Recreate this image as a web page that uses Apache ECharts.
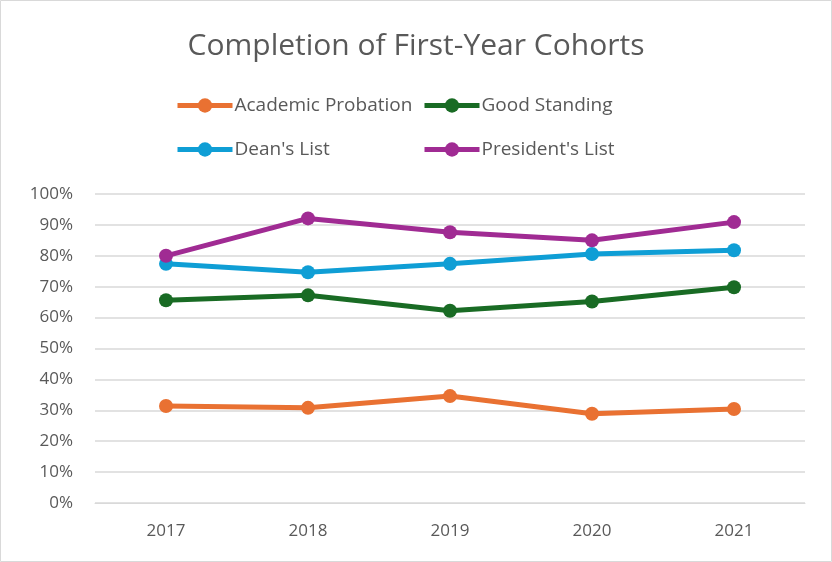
<!DOCTYPE html>
<html><head><meta charset="utf-8">
<script src="https://cdn.jsdelivr.net/npm/echarts@6/dist/echarts.min.js"></script>
<style>html,body{margin:0;padding:0;background:#fff}#c{width:832px;height:562px}</style>
</head><body><div id="c"></div>
<script>
var years = ['2017','2018','2019','2020','2021'];
var academicProbation = [0.314, 0.308, 0.346, 0.289, 0.304];
var goodStanding = [0.656, 0.672, 0.622, 0.652, 0.698];
var deansList = [0.774, 0.747, 0.774, 0.806, 0.818];
var presidentsList = [0.800, 0.921, 0.876, 0.850, 0.909];
var seriesNames = ['Academic Probation','Good Standing',"Dean's List","President's List"];
var colors = ['#E97132','#196B24','#0F9ED5','#A02B93'];
var font = '"Open Sans", sans-serif';
var chart = echarts.init(document.getElementById('c'));
var data = [academicProbation, goodStanding, deansList, presidentsList];
var legendBase = {orient:'vertical',top:91,itemGap:25,itemWidth:55,itemHeight:18,lineStyle:{width:5},textStyle:{fontFamily:font,fontSize:19,color:'#595959',padding:[0,0,0,-3]}};
chart.setOption({
  animation:false,
  title:{text:'Completion of First-Year Cohorts',left:'center',top:26,textStyle:{fontFamily:font,fontSize:30,fontWeight:'normal',color:'#595959'}},
  legend:[
    Object.assign({data:[seriesNames[0],seriesNames[2]],left:170}, legendBase),
    Object.assign({data:[seriesNames[1],seriesNames[3]],left:417}, legendBase)
  ],
  grid:{left:95,right:27,top:194,bottom:59},
  xAxis:{type:'category',data:years,axisLine:{lineStyle:{color:'#d9d9d9'}},axisTick:{show:false},axisLabel:{fontFamily:font,fontSize:17,color:'#595959',margin:20}},
  yAxis:{type:'value',min:0,max:1,interval:0.1,axisLine:{show:false},axisTick:{show:false},splitLine:{lineStyle:{color:'#d9d9d9',width:1.5}},axisLabel:{fontFamily:font,fontSize:17,color:'#595959',margin:22,formatter:function(v){return Math.round(v*100)+'%';}}},
  graphic:[{type:'rect',shape:{x:0.5,y:0.5,width:831,height:561},style:{fill:'none',stroke:'#d9d9d9',lineWidth:1}}],
  series:data.map(function(d,i){return {name:seriesNames[i],type:'line',data:d,symbol:'circle',symbolSize:14,lineStyle:{width:5,color:colors[i]},itemStyle:{color:colors[i]}};})
});
</script></body></html>
